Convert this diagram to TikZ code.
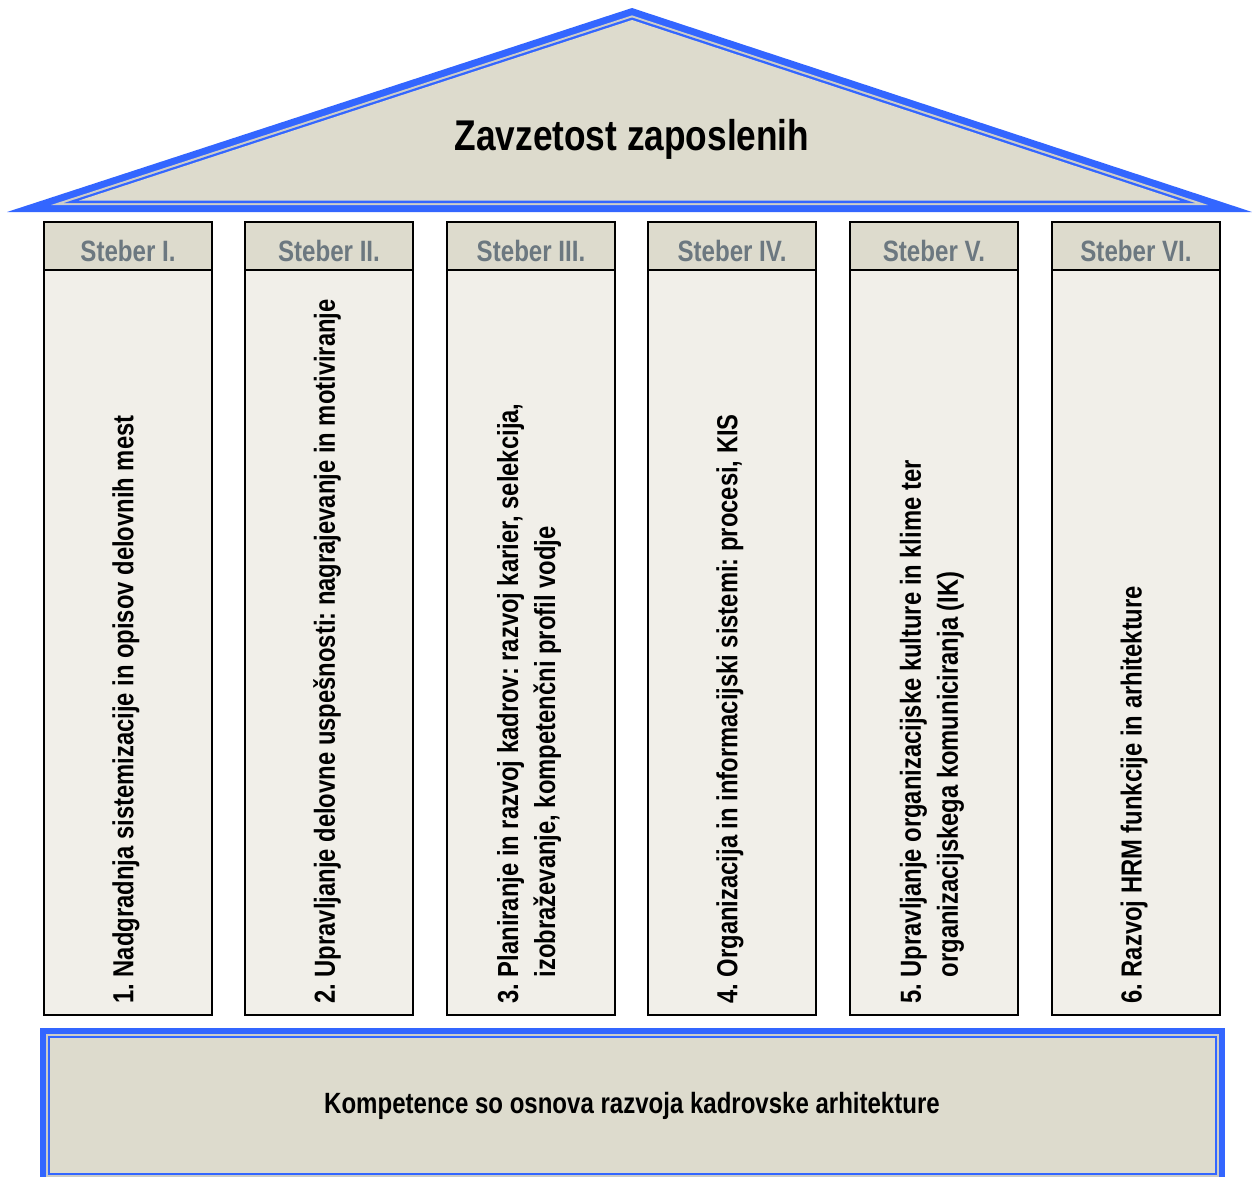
\documentclass[tikz,border=0pt]{standalone}
\usepackage{fontspec}
\setmainfont{Liberation Sans}[FakeStretch=0.82]
\frenchspacing
\definecolor{roofgray}{RGB}{221,219,205}
\definecolor{roofblue}{RGB}{51,102,255}
\definecolor{gapgray}{RGB}{205,205,200}
\definecolor{bodygray}{RGB}{241,239,233}
\definecolor{headtext}{RGB}{108,120,128}
\tikzset{
  steberhead/.style={draw=black,line width=2pt,fill=roofgray,minimum width=168pt,minimum height=48pt,
    text=headtext,font=\fontsize{29.4}{34}\selectfont\bfseries,inner sep=0pt,text height=31pt,text depth=0pt},
  steberbody/.style={draw=black,line width=1.6pt,fill=bodygray,minimum width=168pt,minimum height=745pt,inner sep=0pt},
  stebertext/.style={rotate=90,anchor=west,align=left,inner sep=0pt,font=\fontsize{29}{37}\selectfont\bfseries}
}
\begin{document}
\begin{tikzpicture}[x=1pt,y=-1pt]
  \clip (0,0) rectangle (1252,1176);
  \fill[white] (0,0) rectangle (1252,1176);
  \fill[roofblue] (7,212) -- (632,8) -- (1252,212) -- cycle;
  \fill[gapgray] (51,205) -- (632,15.4) -- (1208,205) -- cycle;
  \fill[roofblue] (64,203) -- (632,17.5) -- (1195,203) -- cycle;
  \fill[roofgray] (79,200.5) -- (632,20) -- (1180,200.5) -- cycle;
  \node[font=\fontsize{43}{50}\selectfont\bfseries] (roof) at (632,139) {Zavzetost zaposlenih};
  \fill[roofblue] (40,1028) rectangle (1225,1184);
  \fill[gapgray] (46,1034) rectangle (1219,1178);
  \fill[roofblue] (48,1036) rectangle (1217,1175);
  \fill[roofgray] (50,1038) rectangle (1215,1173);
  \node[font=\fontsize{29.3}{34}\selectfont\bfseries] (base) at (632,1106) {Kompetence so osnova razvoja kadrovske arhitekture};
  \foreach \i/\cx/\nm in {1/128/I.,2/329/II.,3/531/III.,4/732/IV.,5/934/V.,6/1136/VI.}{
    \node[steberbody] (b\i) at (\cx,642.5) {};
    \node[steberhead] (h\i) at (\cx,246) {Steber \nm};
  }
  \node[stebertext] (t1) at ([xshift=-2pt,yshift=12pt]b1.south) {1. Nadgradnja sistemizacije in opisov delovnih mest};
  \node[stebertext] (t2) at ([xshift=-2pt,yshift=12pt]b2.south) {2. Upravljanje delovne uspešnosti: nagrajevanje in motiviranje};
  \node[stebertext] (t3) at ([xshift=-2pt,yshift=12pt]b3.south) {3. Planiranje in razvoj kadrov: razvoj karier, selekcija,\\\phantom{3. }izobraževanje, kompetenčni profil vodje};
  \node[stebertext] (t4) at ([xshift=-2pt,yshift=12pt]b4.south) {4. Organizacija in informacijski sistemi: procesi, KIS};
  \node[stebertext] (t5) at ([xshift=-2pt,yshift=12pt]b5.south) {5. Upravljanje organizacijske kulture in klime ter\\\phantom{5. }organizacijskega komuniciranja (IK)};
  \node[stebertext] (t6) at ([xshift=-2pt,yshift=12pt]b6.south) {6. Razvoj HRM funkcije in arhitekture};
\end{tikzpicture}
\end{document}
